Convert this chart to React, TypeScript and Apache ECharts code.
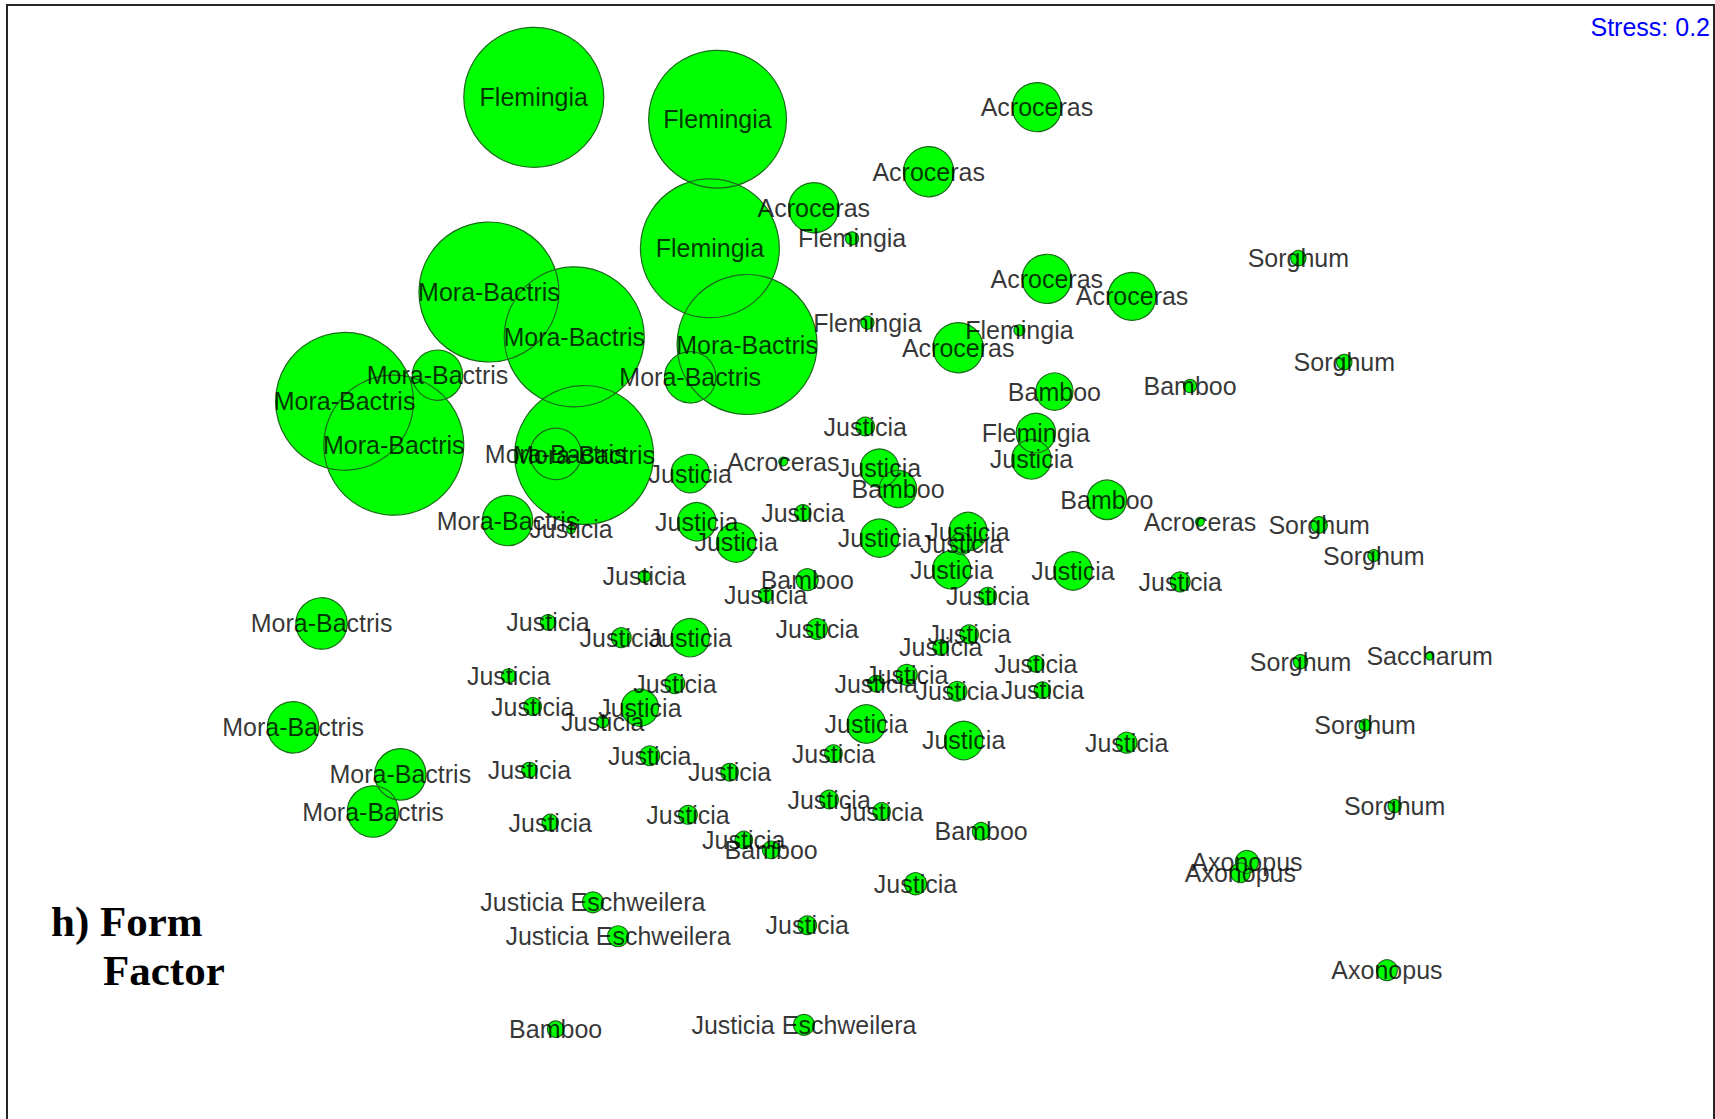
import React, { useEffect, useRef } from "react";
import * as echarts from "echarts";

// Each site: [NMDS1, NMDS2, form factor (bubble diameter, same units as the axes)]
type Site = [number, number, number];

const flemingia: Site[] = [
  [488, 89, 128],
  [656, 109, 126],
  [649, 227, 127],
  [779, 218, 12],
  [793, 295, 12],
  [932, 302, 10],
  [947, 396, 36],
];

const acroceras: Site[] = [
  [948, 98, 45],
  [849, 157, 46],
  [744, 190, 46],
  [957, 255, 45],
  [1035, 271, 44],
  [876, 318, 46],
  [716, 422, 8],
  [1097, 477, 8],
];

const moraBactris: Site[] = [
  [447, 267, 128],
  [525, 308, 128],
  [683, 315, 128],
  [400, 343, 46],
  [631, 345, 47],
  [315, 367, 126],
  [360, 407, 128],
  [534, 416, 127],
  [508, 415, 47],
  [464, 476, 46],
  [294, 570, 47],
  [268, 665, 47],
  [366, 708, 47],
  [341, 742, 47],
];

const bamboo: Site[] = [
  [964, 358, 34],
  [1088, 353, 12],
  [821, 447, 34],
  [1012, 457, 36],
  [738, 530, 20],
  [705, 777, 16],
  [897, 760, 16],
  [508, 941, 15],
];

const sorghum: Site[] = [
  [1187, 236, 14],
  [1229, 331, 14],
  [1206, 480, 15],
  [1256, 508, 11],
  [1189, 605, 13],
  [1248, 663, 11],
  [1275, 737, 12],
];

const saccharum: Site[] = [[1307, 600, 7]];

const axonopus: Site[] = [
  [1140, 788, 21],
  [1134, 798, 18],
  [1268, 887, 19],
];

const justiciaEschweilera: Site[] = [
  [542, 825, 19],
  [565, 856, 19],
  [735, 937, 19],
];

const justicia: Site[] = [
  [791, 390, 17],
  [943, 420, 36],
  [804, 428, 35],
  [631, 433, 35],
  [734, 469, 15],
  [637, 477, 35],
  [522, 484, 8],
  [885, 486, 35],
  [804, 492, 35],
  [673, 496, 36],
  [879, 497, 20],
  [870, 521, 35],
  [981, 522, 35],
  [589, 527, 11],
  [1079, 532, 18],
  [700, 544, 13],
  [903, 545, 16],
  [501, 569, 14],
  [747, 575, 19],
  [886, 580, 17],
  [568, 583, 18],
  [631, 583, 35],
  [860, 592, 14],
  [947, 607, 15],
  [829, 617, 19],
  [465, 618, 13],
  [801, 625, 15],
  [617, 625, 18],
  [875, 632, 18],
  [953, 631, 15],
  [487, 646, 16],
  [585, 647, 34],
  [551, 660, 11],
  [792, 662, 35],
  [881, 677, 35],
  [1030, 679, 19],
  [762, 689, 16],
  [594, 691, 18],
  [484, 704, 14],
  [667, 706, 16],
  [758, 731, 17],
  [806, 742, 16],
  [629, 745, 17],
  [503, 752, 15],
  [680, 768, 16],
  [837, 808, 20],
  [738, 846, 17],
];

const genera: [string, Site[]][] = [
  ["Flemingia", flemingia],
  ["Acroceras", acroceras],
  ["Mora-Bactris", moraBactris],
  ["Bamboo", bamboo],
  ["Sorghum", sorghum],
  ["Saccharum", saccharum],
  ["Axonopus", axonopus],
  ["Justicia Eschweilera", justiciaEschweilera],
  ["Justicia", justicia],
];

const stressText = "Stress: 0.2";
const panelTitle = ["h) Form", "Factor"];

// Visible window of the ordination
const xMin = 6.4;
const xMax = 1567;
const yMin = 4.6;
const yMax = 1037.7;

const WIDTH = 1715;
const HEIGHT = 1119;
// the plot box runs past the bottom of the page, so its lower edge is cut off
const CANVAS_HEIGHT = 1150;
const GRID = { left: 7, top: 5, width: 1707, height: 1130 };
// pixels per axis unit, so bubble diameters share the axes' scale
const unitPx = GRID.width / (xMax - xMin);

const LABEL_FONT = "'Liberation Sans', Arial, Helvetica, sans-serif";
const TITLE_FONT = "'Liberation Serif', 'Times New Roman', Times, serif";

export default function App() {
  const ref = useRef<HTMLDivElement>(null);

  useEffect(() => {
    document.body.style.margin = "0";
    if (!ref.current) return;
    const chart = echarts.init(ref.current, undefined, { renderer: "svg" });

    const points = genera.flatMap(([name, sites]) =>
      sites.map((s) => ({ name, value: s }))
    );
    const size = (v: number[]) => v[2] * unitPx;

    chart.setOption({
      animation: false,
      backgroundColor: "#ffffff",
      grid: {
        ...GRID,
        show: true,
        backgroundColor: "#ffffff",
        borderColor: "#262626",
        borderWidth: 2,
      },
      xAxis: {
        type: "value",
        name: "NMDS1",
        min: xMin,
        max: xMax,
        show: false,
      },
      yAxis: {
        type: "value",
        name: "NMDS2",
        min: yMin,
        max: yMax,
        inverse: true,
        show: false,
      },
      series: [
        {
          // bubble fills
          type: "scatter",
          data: points,
          symbol: "circle",
          symbolSize: size,
          silent: true,
          z: 2,
          itemStyle: { color: "#00ff00", borderWidth: 0, opacity: 1 },
          emphasis: { disabled: true },
        },
        {
          // bubble outlines, kept above every fill
          type: "scatter",
          data: points,
          symbol: "circle",
          symbolSize: size,
          silent: true,
          z: 3,
          itemStyle: {
            color: "rgba(0,0,0,0)",
            borderColor: "#1c6a1c",
            borderWidth: 1.2,
            opacity: 1,
          },
          emphasis: { disabled: true },
        },
        {
          // site labels, centred on each site
          type: "scatter",
          data: points,
          symbol: "circle",
          symbolSize: 1,
          silent: true,
          z: 4,
          itemStyle: { color: "rgba(0,0,0,0)" },
          label: {
            show: true,
            position: "inside",
            formatter: "{b}",
            color: "#000000",
            fontSize: 25,
            fontFamily: LABEL_FONT,
          },
          labelLayout: { hideOverlap: false },
          emphasis: { disabled: true },
        },
      ],
      graphic: [
        {
          type: "text",
          z: 10,
          x: 1710,
          y: 27,
          style: {
            text: stressText,
            fill: "#0000ff",
            fontSize: 25,
            fontFamily: LABEL_FONT,
            textAlign: "right",
            textVerticalAlign: "middle",
            align: "right",
            verticalAlign: "middle",
          },
        },
        {
          type: "text",
          z: 10,
          x: 51,
          y: 921,
          style: {
            text: panelTitle[0],
            fill: "#000000",
            fontSize: 43,
            fontWeight: "bold",
            fontFamily: TITLE_FONT,
            textAlign: "left",
            textVerticalAlign: "middle",
            align: "left",
            verticalAlign: "middle",
          },
        },
        {
          type: "text",
          z: 10,
          x: 103,
          y: 970,
          style: {
            text: panelTitle[1],
            fill: "#000000",
            fontSize: 43,
            fontWeight: "bold",
            fontFamily: TITLE_FONT,
            textAlign: "left",
            textVerticalAlign: "middle",
            align: "left",
            verticalAlign: "middle",
          },
        },
      ],
    });

    return () => {
      chart.dispose();
    };
  }, []);

  return (
    <div style={{ width: WIDTH, height: HEIGHT, overflow: "hidden" }}>
      <div ref={ref} style={{ width: WIDTH, height: CANVAS_HEIGHT }} />
    </div>
  );
}
